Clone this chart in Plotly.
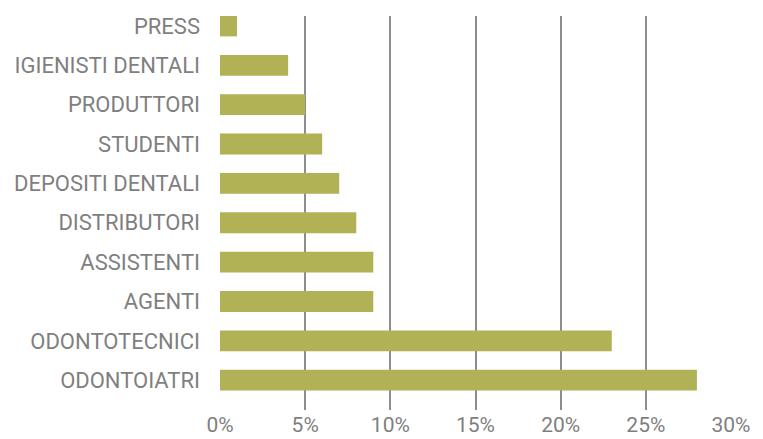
import plotly.graph_objects as go

# ─── Data ────────────────────────────────────────────────────────────────────
categories = ['ODONTOIATRI', 'ODONTOTECNICI', 'AGENTI', 'ASSISTENTI', 'DISTRIBUTORI',
              'DEPOSITI DENTALI', 'STUDENTI', 'PRODUTTORI', 'IGIENISTI DENTALI', 'PRESS']
values = [28, 23, 9, 9, 8, 7, 6, 5, 4, 1]
x_ticks = [0, 5, 10, 15, 20, 25, 30]
x_tick_labels = ['0%', '5%', '10%', '15%', '20%', '25%', '30%']

COLORS = {
    'bar': '#b0b255',
    'grid': '#8d8c93',
    'text': '#7f7f7f',
}
FONT = 'Roboto, sans-serif'

fig = go.Figure(go.Bar(
    x=values,
    y=categories,
    orientation='h',
    width=0.53,
    marker=dict(color=COLORS['bar'], line=dict(width=0)),
))

# the page body adds an 8px offset, margins account for it
fig.update_layout(
    width=763,
    height=439,
    paper_bgcolor='white',
    plot_bgcolor='white',
    font=dict(family=FONT, color=COLORS['text'], size=21),
    margin=dict(l=212, r=40, t=6, b=37),
    showlegend=False,
    xaxis=dict(
        range=[0, 30],
        tickvals=x_ticks,
        ticktext=x_tick_labels,
        showgrid=True,
        gridcolor=COLORS['grid'],
        gridwidth=1.5,
        zeroline=False,
        showline=False,
        tickfont=dict(size=21, color=COLORS['text']),
    ),
    yaxis=dict(
        range=[-0.758, 9.253],
        showgrid=False,
        zeroline=False,
        showline=False,
        ticklabelstandoff=19,
        tickfont=dict(size=22, color=COLORS['text']),
    ),
)

fig.write_html("out.html")
